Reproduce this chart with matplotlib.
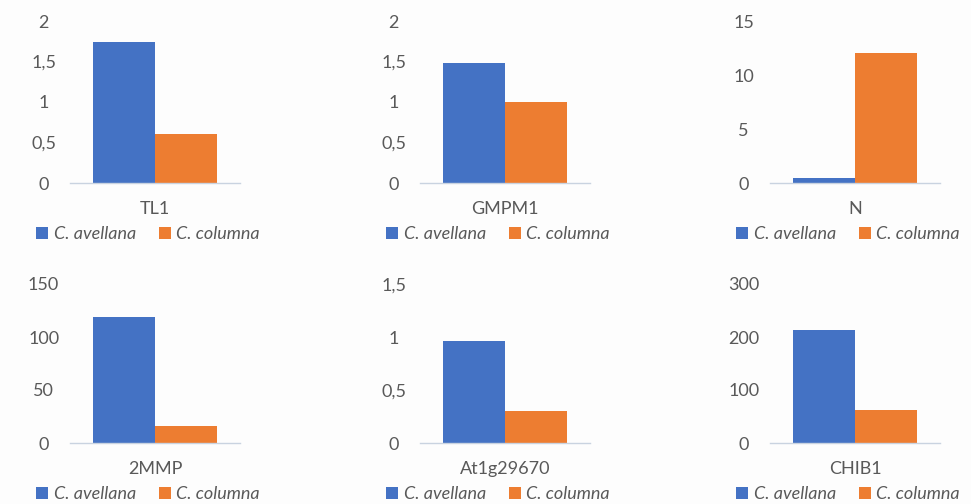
import numpy as np
import matplotlib.pyplot as plt

genes = ["TL1", "GMPM1", "N", "2MMP", "At1g29670", "CHIB1"]
avellana = [1.74, 1.48, 0.45, 119, 0.96, 214]
columna = [0.60, 1.00, 12.05, 16, 0.30, 62]
yticks = [[0, 0.5, 1, 1.5, 2],
          [0, 0.5, 1, 1.5, 2],
          [0, 5, 10, 15],
          [0, 50, 100, 150],
          [0, 0.5, 1, 1.5],
          [0, 100, 200, 300]]
series = ["C. avellana", "C. columna"]

blue = "#4472C4"
orange = "#ED7D31"
grey = "#595959"

plt.rcParams['font.family'] = ['Lato', 'DejaVu Sans']

fig = plt.figure(figsize=(9.71, 5.04), dpi=100)
fig.patch.set_facecolor("#fdfdfd")

W, H = 971, 504
lefts = [70, 420, 770]
rows = [(183, 21), (443, 284)]  # (y of zero, y of top) in pixels


def fmt(v):
    s = ("%g" % v)
    return s.replace(".", ",")


for i, g in enumerate(genes):
    r, c = divmod(i, 3)
    y0, y1 = rows[r]
    ax = fig.add_axes([lefts[c] / W, (H - y0) / H, 170 / W, (y0 - y1) / H])
    ax.set_facecolor("none")
    bw = 62 / 170
    ax.bar([-bw / 2], [avellana[i]], width=bw, color=blue, label=series[0])
    ax.bar([bw / 2], [columna[i]], width=bw, color=orange, label=series[1])
    ax.set_xlim(-0.5, 0.5)
    ax.set_ylim(0, yticks[i][-1])
    ax.set_yticks(yticks[i])
    ax.set_yticklabels([fmt(v) for v in yticks[i]])
    ax.set_xticks([0])
    ax.set_xticklabels([g])
    for s in ["top", "right", "left"]:
        ax.spines[s].set_visible(False)
    ax.spines["bottom"].set_color("#c9d3e0")
    ax.spines["bottom"].set_linewidth(1)
    ax.tick_params(axis="both", length=0, colors=grey, labelsize=13)
    ax.tick_params(axis="y", pad=19)
    ax.tick_params(axis="x", pad=13)
    for t in ax.get_yticklabels():
        t.set_horizontalalignment("center")
    ax.legend(loc="center", bbox_to_anchor=(0.46, -51 / (y0 - y1)), ncol=2,
              frameon=False, prop={"style": "italic", "size": 13},
              labelcolor=grey, handlelength=0.65, handleheight=0.65,
              handletextpad=0.3, columnspacing=1.3, borderaxespad=0,
              borderpad=0)

fig.savefig("out.png", dpi=100, facecolor=fig.get_facecolor())
